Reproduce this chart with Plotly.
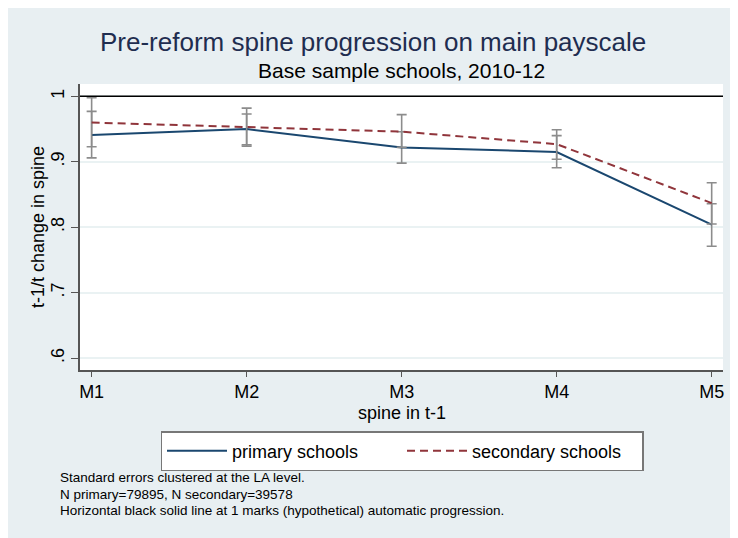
import plotly.graph_objects as go

# spine points and estimates
spine = ["M1", "M2", "M3", "M4", "M5"]

primary = [0.941, 0.950, 0.922, 0.915, 0.804]
primary_lo = [0.906, 0.926, 0.898, 0.891, 0.771]
primary_hi = [0.977, 0.973, 0.946, 0.940, 0.836]

secondary = [0.960, 0.953, 0.946, 0.927, 0.837]
secondary_lo = [0.923, 0.924, 0.922, 0.904, 0.805]
secondary_hi = [0.998, 0.982, 0.972, 0.949, 0.868]

y_ticks = [0.6, 0.7, 0.8, 0.9, 1.0]
y_tick_text = [".6", ".7", ".8", ".9", "1"]

notes = [
    "Standard errors clustered at the LA level.",
    "N primary=79895, N secondary=39578",
    "Horizontal black solid line at 1 marks (hypothetical) automatic progression.",
]

NAVY = "#1a476f"
MAROON = "#90353b"
BAR_GREY = "#8c8c8c"
PANEL = "#e8eff2"
FONT = "Liberation Sans, Arial, sans-serif"

# plot area is 643 x 286 px; helpers turn page pixels into paper coords
PX_L, PX_B = 80, 370


def px(x):
    return (x - PX_L) / 643


def py(y):
    return (PX_B - y) / 286


def err(mid, lo, hi):
    return dict(type="data", symmetric=False,
                array=[h - m for m, h in zip(mid, hi)],
                arrayminus=[m - l for m, l in zip(mid, lo)],
                color=BAR_GREY, thickness=1.6, width=5)


fig = go.Figure()
fig.add_trace(go.Scatter(x=spine, y=primary, mode="lines", name="primary schools",
                         line=dict(color=NAVY, width=2),
                         error_y=err(primary, primary_lo, primary_hi)))
fig.add_trace(go.Scatter(x=spine, y=secondary, mode="lines", name="secondary schools",
                         line=dict(color=MAROON, width=2, dash="8px,5px"),
                         error_y=err(secondary, secondary_lo, secondary_hi)))

# reference line at 1
fig.add_hline(y=1, line=dict(color="black", width=1.6))

annos = [
    dict(text="Pre-reform spine progression on main payscale", x=px(372.5), y=py(42),
         font=dict(size=26, color="#1f2d50")),
    dict(text="Base sample schools, 2010-12", x=0.5, y=py(70),
         font=dict(size=21, color="black")),
    dict(text="spine in t-1", x=0.5, y=py(413), font=dict(size=18, color="black")),
    dict(text="t-1/t change in spine", x=px(38), y=0.5, textangle=-90,
         font=dict(size=18, color="black")),
]
for a in annos:
    fig.add_annotation(xref="paper", yref="paper", showarrow=False,
                       xanchor="center", yanchor="middle", **a)

for i, line in enumerate(notes):
    fig.add_annotation(xref="paper", yref="paper", showarrow=False,
                       x=px(58), y=py(478 + 16 * i),
                       xanchor="left", yanchor="middle", align="left", text=line,
                       font=dict(size=13.5, color="black",
                                 family="Liberation Sans Narrow, Arial Narrow, sans-serif"))

fig.update_xaxes(type="category", range=[-0.075, 4.073], showgrid=False,
                 showline=True, linecolor="#555555", linewidth=1.5,
                 ticks="outside", ticklen=5, tickcolor="#555555",
                 tickfont=dict(size=18, color="black"), zeroline=False,
                 automargin=False)
fig.update_yaxes(range=[0.5821, 1.0188], tickvals=y_ticks, ticktext=y_tick_text,
                 tickangle=-90, showgrid=True, gridcolor="#eaf2f3", gridwidth=1.5,
                 showline=True, linecolor="#555555", linewidth=1.5,
                 ticks="outside", ticklen=7, tickcolor="#555555", ticklabelstandoff=0,
                 tickfont=dict(size=18, color="black"), zeroline=False,
                 automargin=False)

# page body adds ~8px, so the figure itself is 730 x 530
fig.update_layout(
    width=730, height=530,
    margin=dict(l=72, r=15, t=76, b=168),
    paper_bgcolor=PANEL, plot_bgcolor="white",
    font=dict(family=FONT),
    showlegend=True,
    legend=dict(orientation="h", x=px(402), xanchor="center", y=py(431), yanchor="top",
                bgcolor="white", bordercolor="#777777", borderwidth=1.5,
                font=dict(size=18, color="black"), itemwidth=60,
                entrywidth=165, traceorder="normal"),
)

fig.write_html("out.html")
